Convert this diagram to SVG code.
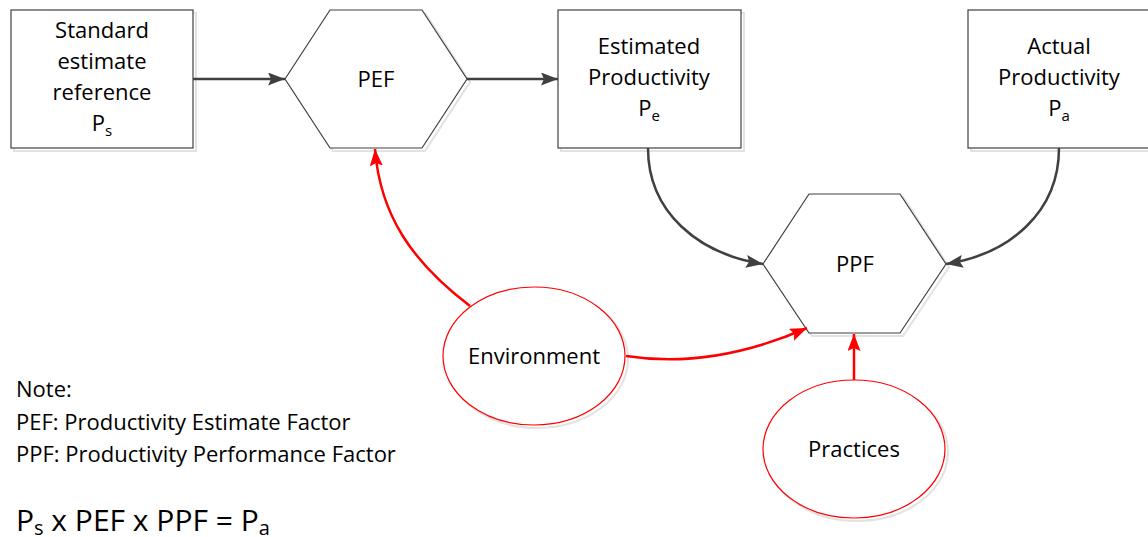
<svg xmlns="http://www.w3.org/2000/svg" width="1148" height="537" viewBox="0 0 1148 537">
<style>
  .box{fill:#fff;stroke:#404040;stroke-width:1.2}
  .shadow{fill:none;stroke:#e2e2e2;stroke-width:2}
  .ell{fill:#fff;stroke:#ff0000;stroke-width:1.2}
  .t{font-family:"Open Sans","Liberation Sans",sans-serif;font-size:22px;fill:#000;text-anchor:middle}
  .note{font-family:"Open Sans","Liberation Sans",sans-serif;font-size:22px;fill:#000}
  .sub{font-size:15px}
  .dark{fill:none;stroke:#404040;stroke-width:2.5}
  .red{fill:none;stroke:#ff0000;stroke-width:2.5}
</style>
<defs>
  <marker id="ad" viewBox="0 0 17 13" refX="17" refY="6.5" markerWidth="17" markerHeight="13" markerUnits="userSpaceOnUse" orient="auto">
    <path d="M0,0 L17,6.5 L0,13 L3,6.5 Z" fill="#404040"/>
  </marker>
  <marker id="ar" viewBox="0 0 17 13" refX="17" refY="6.5" markerWidth="17" markerHeight="13" markerUnits="userSpaceOnUse" orient="auto">
    <path d="M0,0 L17,6.5 L0,13 L3,6.5 Z" fill="#ff0000"/>
  </marker>
</defs>
<rect width="1148" height="537" fill="#fff"/>

<g id="n-standard">
  <rect class="shadow" x="14" y="13" width="182" height="138"/>
  <rect class="box" x="11" y="10" width="182" height="138"/>
  <text class="t" x="102" y="38">Standard</text>
  <text class="t" x="102" y="69">estimate</text>
  <text class="t" x="102" y="100">reference</text>
  <text class="t" x="102" y="131">P<tspan class="sub" dy="5">s</tspan></text>
</g>

<g id="n-pef">
  <polygon class="shadow" points="288,82 333,13 425,13 470,82 425,151 333,151"/>
  <polygon class="box" points="285,79 330,10 422,10 467,79 422,148 330,148"/>
  <text class="t" x="376" y="87">PEF</text>
</g>

<g id="n-estimated">
  <rect class="shadow" x="561" y="13" width="183" height="138"/>
  <rect class="box" x="558" y="10" width="183" height="138"/>
  <text class="t" x="649" y="54">Estimated</text>
  <text class="t" x="649" y="85">Productivity</text>
  <text class="t" x="649" y="116">P<tspan class="sub" dy="5">e</tspan></text>
</g>

<g id="n-actual">
  <rect class="shadow" x="971" y="13" width="190" height="138"/>
  <rect class="box" x="968" y="10" width="190" height="138"/>
  <text class="t" x="1059" y="54">Actual</text>
  <text class="t" x="1059" y="85">Productivity</text>
  <text class="t" x="1059" y="116">P<tspan class="sub" dy="5">a</tspan></text>
</g>

<g id="n-ppf">
  <polygon class="shadow" points="766,267 812,197 903,197 949,267 903,336 812,336"/>
  <polygon class="box" points="763,264 809,194 900,194 946,264 900,333 809,333"/>
  <text class="t" x="855" y="272">PPF</text>
</g>

<g id="n-environment">
  <ellipse class="shadow" cx="537" cy="359" rx="91" ry="69"/>
  <ellipse class="ell" cx="534" cy="356" rx="91" ry="69"/>
  <text class="t" x="534" y="364">Environment</text>
</g>

<g id="n-practices">
  <ellipse class="shadow" cx="857" cy="452" rx="91" ry="69"/>
  <ellipse class="ell" cx="854" cy="449" rx="91" ry="69"/>
  <text class="t" x="854" y="457">Practices</text>
</g>

<g id="connectors">
  <path class="dark" d="M193,79 L285,79" marker-end="url(#ad)"/>
  <path class="dark" d="M467,79 L558,79" marker-end="url(#ad)"/>
  <path class="dark" d="M648,148 C648,212 698,254 763,264" marker-end="url(#ad)"/>
  <path class="dark" d="M1059,148 C1059,212 1010,254 946,264" marker-end="url(#ad)"/>
  <path class="red" d="M470,306 C412,262 380,215 375,149" marker-end="url(#ar)"/>
  <path class="red" d="M626,356 C690,366 752,352 807,328" marker-end="url(#ar)"/>
  <path class="red" d="M854,380 L854,334" marker-end="url(#ar)"/>
</g>

<g id="notes">
  <text class="note" x="16" y="397">Note:</text>
  <text class="note" x="16" y="430">PEF: Productivity Estimate Factor</text>
  <text class="note" x="16" y="462">PPF: Productivity Performance Factor</text>
  <text class="note" x="16" y="531" style="font-size:30px">P<tspan style="font-size:20px" dy="4">s</tspan><tspan dy="-4"> x PEF x PPF = P</tspan><tspan style="font-size:20px" dy="4">a</tspan></text>
</g>
</svg>
